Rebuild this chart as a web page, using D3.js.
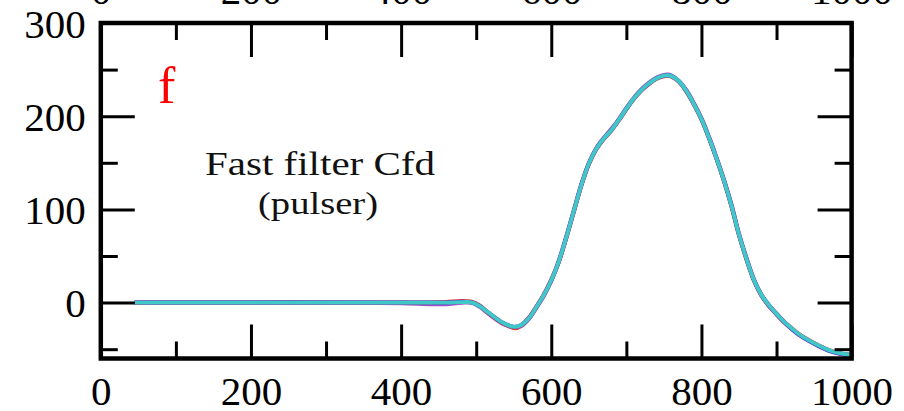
<!DOCTYPE html>
<html>
<head>
<meta charset="utf-8">
<script src="https://cdn.jsdelivr.net/npm/d3@7/dist/d3.min.js"></script>
<style>
  html, body { margin: 0; padding: 0; background: #ffffff; }
  svg { display: block; }
  text { font-family: "Liberation Serif", "DejaVu Serif", serif; }
</style>
</head>
<body>
<svg id="chart" width="904" height="411"></svg>
<script>
// Sample positions (time bins) shared by all traces
const samples = [45,100,200,300,400,440,460,480,495,505,
                 515,525,535,545,552,560,570,580,590,600,
                 610,620,630,640,650,660,670,680,690,700,
                 710,720,730,740,750,755,760,770,780,790,
                 800,810,820,830,840,850,860,870,880,890,
                 900,910,920,930,940,950,960,970,980,990,
                 1000];

// Overlaid fast-filter CFD traces from repeated pulser events
const tracePurple = [0,0,0,0,-0.5,-1.5,-1.5,0,0,-4.5,
                     -11,-17,-22.5,-25.5,-27,-25,-17.5,-5.5,7.5,23.5,
                     44.5,70.5,98.5,126.5,149.5,165.5,176.5,186,196.5,208.5,
                     219.5,228.5,235.5,241,244,244.5,243.5,237.5,227.5,213.5,
                     197.5,177.5,155.5,131.5,104.5,73.5,47.5,24.5,8,-3.5,
                     -12.5,-21,-28,-34.5,-39.5,-44,-48,-51.5,-54,-55.5,
                     -56.5];
const traceRed = [0,0,0,0,0,0,0.5,1.5,0.5,-3.5,
                  -10.5,-16.5,-22,-25.5,-27.5,-24.5,-16.5,-4.5,8.5,24.5,
                  43.5,69.5,97.5,125.5,148.5,164.5,175.5,184.5,195.5,207.5,
                  218.5,227.5,234.5,240,243,243.5,242.5,237,226.5,212.5,
                  196.5,176.5,154.5,130.5,103.5,72.5,46.5,23.5,7.5,-3.5,
                  -12,-20.5,-27.5,-34,-39,-43.5,-47.5,-51,-53.5,-55.5,
                  -56];
const traceBlue = [0,0,0,0,0,0,0,1,0,-4,
                   -10,-16,-21.5,-25,-26,-24,-17,-5,8,24,
                   44,70,98,126,149,165,176,185,196,208,
                   219,228,235,240.5,243.5,244,243,237.5,227,213,
                   197,177,155,131,104,73,47,24,8,-3,
                   -12,-20.5,-28,-34.5,-39.5,-44,-48,-51.5,-54,-55.5,
                   -56.5];
const traceCyan = [0,0,0,0,0,0,0,0.5,0,-4,
                   -10,-16,-21.5,-25,-26,-24,-17,-5,8,24,
                   44,70,98,126,149,165,176,185,196,208,
                   219,228,235,240.5,243.5,244,243,237.5,227,213,
                   197,177,155,131,104,73,47,24,8,-3,
                   -12,-20.5,-27.5,-34,-39,-43.5,-47.5,-51,-53.5,-55.2,
                   -56.3];

// Axis ticks
const xMajorTicks = [0,200,400,600,800,1000];
const xMinorTicks = [100,300,500,700,900];
const yMajorTicks = [0,100,200,300];
const yMinorTicks = [-50,50,150,250];

const panelLabel = "f";
const titleLine1 = "Fast filter Cfd";
const titleLine2 = "(pulser)";

const svg = d3.select("#chart");

const plotLeft = 100.8, plotRight = 851.6, plotTop = 23, plotBottom = 358.5;
const x = d3.scaleLinear().domain([0, 1000]).range([plotLeft, plotRight]);
const y = d3.scaleLinear().domain([-60, 300]).range([plotBottom, plotTop]);

// Traces, drawn first so the cyan one ends up on top
const line = d3.line()
  .x((d, i) => x(samples[i]))
  .y(d => y(d))
  .curve(d3.curveCatmullRom.alpha(0.5));

const traces = [
  { values: tracePurple, color: "#9b4fc9", width: 4.4 },
  { values: traceRed,    color: "#e0403c", width: 4.2 },
  { values: traceBlue,   color: "#3a3ae0", width: 4.0 },
  { values: traceCyan,   color: "#40c8c8", width: 3.9 }
];
svg.append("g").selectAll("path")
  .data(traces)
  .join("path")
  .attr("d", d => line(d.values))
  .attr("fill", "none")
  .attr("stroke", d => d.color)
  .attr("stroke-width", d => d.width)
  .attr("stroke-linejoin", "round")
  .attr("stroke-linecap", "butt");

const fontSize = 41;
const majorLen = 34, minorLen = 17;

function styleTicks(g) {
  g.select(".domain").remove();
  g.selectAll(".tick line").attr("stroke", "#000").attr("stroke-width", 3);
  g.selectAll(".tick text")
    .attr("fill", "#000")
    .attr("font-size", fontSize)
    .attr("font-family", "Liberation Serif, serif");
}

// Bottom axis
svg.append("g").attr("transform", `translate(0,${plotBottom})`)
  .call(d3.axisBottom(x).tickValues(xMajorTicks).tickSize(-majorLen).tickPadding(0).tickFormat(d3.format("d")))
  .call(styleTicks)
  .call(g => g.selectAll(".tick text").attr("y", 46).attr("dy", 0));
svg.append("g").attr("transform", `translate(0,${plotBottom})`)
  .call(d3.axisBottom(x).tickValues(xMinorTicks).tickSize(-minorLen).tickFormat(""))
  .call(styleTicks);

// Top axis (its labels belong to the panel above and run off the top edge)
svg.append("g").attr("transform", `translate(0,${plotTop})`)
  .call(d3.axisTop(x).tickValues(xMajorTicks).tickSize(-majorLen).tickPadding(0).tickFormat(d3.format("d")))
  .call(styleTicks)
  .call(g => g.selectAll(".tick text").attr("y", -19).attr("dy", 0));
svg.append("g").attr("transform", `translate(0,${plotTop})`)
  .call(d3.axisTop(x).tickValues(xMinorTicks).tickSize(-minorLen).tickFormat(""))
  .call(styleTicks);

// Left axis
svg.append("g").attr("transform", `translate(${plotLeft},0)`)
  .call(d3.axisLeft(y).tickValues(yMajorTicks).tickSize(-majorLen).tickPadding(0).tickFormat(d3.format("d")))
  .call(styleTicks)
  .call(g => g.selectAll(".tick text").attr("x", -15).attr("dy", 14));
svg.append("g").attr("transform", `translate(${plotLeft},0)`)
  .call(d3.axisLeft(y).tickValues(yMinorTicks).tickSize(-minorLen).tickFormat(""))
  .call(styleTicks);

// Right axis (ticks only)
svg.append("g").attr("transform", `translate(${plotRight},0)`)
  .call(d3.axisRight(y).tickValues(yMajorTicks).tickSize(-majorLen).tickFormat(""))
  .call(styleTicks);
svg.append("g").attr("transform", `translate(${plotRight},0)`)
  .call(d3.axisRight(y).tickValues(yMinorTicks).tickSize(-minorLen).tickFormat(""))
  .call(styleTicks);

// Frame
svg.append("rect")
  .attr("x", plotLeft).attr("y", plotTop)
  .attr("width", plotRight - plotLeft).attr("height", plotBottom - plotTop)
  .attr("fill", "none").attr("stroke", "#000").attr("stroke-width", 4.5);

// Panel label and annotation
svg.append("text")
  .attr("x", 158).attr("y", 103)
  .attr("fill", "#ff0000")
  .attr("font-size", 52)
  .text(panelLabel);

svg.append("text")
  .attr("x", 320).attr("y", 175)
  .attr("text-anchor", "middle")
  .attr("font-size", 34)
  .attr("textLength", 230).attr("lengthAdjust", "spacingAndGlyphs")
  .attr("fill", "#111")
  .text(titleLine1);

svg.append("text")
  .attr("x", 318).attr("y", 214)
  .attr("text-anchor", "middle")
  .attr("font-size", 31)
  .attr("textLength", 120).attr("lengthAdjust", "spacingAndGlyphs")
  .attr("fill", "#111")
  .text(titleLine2);
</script>
</body>
</html>
